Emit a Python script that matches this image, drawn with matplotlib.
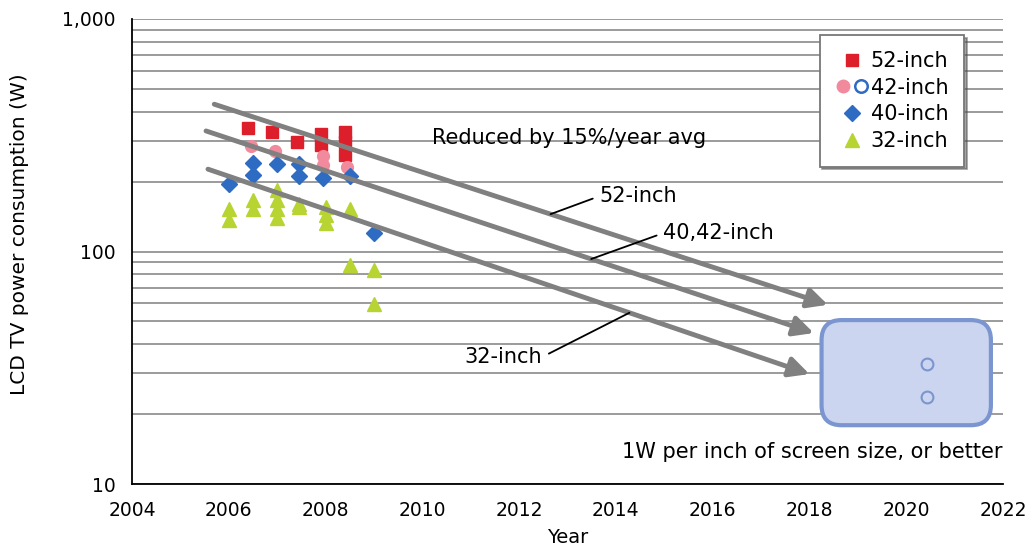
import matplotlib
matplotlib.use("Agg")
import numpy as np
import matplotlib.pyplot as plt
import matplotlib.transforms as mtransforms
from matplotlib.patches import FancyBboxPatch
from matplotlib.lines import Line2D
from matplotlib.legend_handler import HandlerTuple
from matplotlib.ticker import FixedLocator, FuncFormatter, NullFormatter

plt.rcParams["font.family"] = ["DejaVu Sans"]

# measured points
yr52 = [2006.4, 2006.9, 2007.4, 2007.9, 2007.9, 2008.4, 2008.4, 2008.4]
w52 = [339, 327, 295, 320, 287, 326, 296, 260]

yr42 = [2006.45, 2006.95, 2007.95, 2007.95, 2008.45]
w42 = [283, 270, 258, 236, 232]

yr40 = [2006.0, 2006.5, 2006.5, 2007.0, 2007.45, 2007.45, 2007.95, 2008.5, 2009.0]
w40 = [195, 241, 213, 239, 239, 211, 207, 211, 120]

yr32 = [2006.0, 2006.0, 2006.5, 2006.5, 2007.0, 2007.0, 2007.0, 2007.0,
        2007.45, 2007.45, 2008.0, 2008.0, 2008.0, 2008.5, 2008.5, 2009.0, 2009.0]
w32 = [152, 137, 166, 153, 184, 166, 153, 140,
       160, 155, 156, 144, 133, 153, 87.5, 83, 59.5]

# trend arrows (-15%/year)
trend_names = ["52-inch", "40,42-inch", "32-inch"]
trend_y0 = [2005.7, 2005.53, 2005.57]
trend_w0 = [430, 330, 226]
trend_y1 = [2018.38, 2018.09, 2018.0]
trend_w1 = [59, 44.6, 29.7]

# target region
target_years = [2018.25, 2021.75]
target_watts = [17.9, 50.7]
goal_years = [2020.42, 2020.42]
goal_watts = [32.8, 23.7]

xticks = list(range(2004, 2023, 2))

fig = plt.figure(figsize=(10.33, 5.5), dpi=100)
ax = fig.add_axes([132 / 1033, 66 / 550, 871 / 1033, 465 / 550])
ax.set_yscale("log")
ax.set_xlim(2004, 2022)
ax.set_ylim(10, 1000)

grid_vals = [v * d for d in (10, 100) for v in range(1, 10)] + [1000]
ax.yaxis.set_major_locator(FixedLocator([10, 100, 1000]))
ax.yaxis.set_minor_locator(FixedLocator([v for v in grid_vals if v not in (10, 100, 1000)]))
ax.yaxis.set_major_formatter(FuncFormatter(lambda v, p: f"{int(v):,}"))
ax.yaxis.set_minor_formatter(NullFormatter())
ax.set_xticks(xticks)
ax.grid(axis="y", which="both", color="#939393", lw=1.3)
ax.set_axisbelow(True)
for s in ["top", "right"]:
    ax.spines[s].set_visible(False)
for s in ["left", "bottom"]:
    ax.spines[s].set_linewidth(1.3)
ax.tick_params(axis="both", which="both", length=0, labelsize=13.5)
ax.tick_params(axis="x", pad=12)
ax.tick_params(axis="y", pad=12)
ax.set_xlabel("Year", fontsize=14, labelpad=6)
ax.set_ylabel("LCD TV power consumption (W)", fontsize=14.5)
ax.yaxis.set_label_coords(-0.118, 0.538)

red = "#dd1f2b"
pink = "#f08a9c"
blue = "#2e6cc4"
green = "#b7d433"
pale = "#7b95d0"

ax.plot(yr52, w52, "s", color=red, ms=8, ls="none", zorder=3)
ax.plot(yr42, w42, "o", color=pink, ms=8.5, ls="none", zorder=3)
ax.plot(yr40, w40, "D", color=blue, ms=8.5, ls="none", zorder=3)
ax.plot(yr32, w32, "^", color=green, ms=10, ls="none", zorder=3)

for x0, v0, x1, v1 in zip(trend_y0, trend_w0, trend_y1, trend_w1):
    ax.annotate("", xy=(x1, v1), xytext=(x0, v0),
                arrowprops=dict(arrowstyle="-|>", color="#808080", lw=3.5,
                                mutation_scale=30, shrinkA=0, shrinkB=0),
                zorder=4)


def on_trend(i, yr):
    la = np.log10(trend_w0[i])
    lb = np.log10(trend_w1[i])
    f = (yr - trend_y0[i]) / (trend_y1[i] - trend_y0[i])
    return 10 ** (la + f * (lb - la))


leader_years = [2012.65, 2013.49, 2014.28]
label_pos = [(2013.66, 173), (2014.98, 120), (2012.48, 35.2)]
label_ha = ["left", "left", "right"]
for i, name in enumerate(trend_names):
    ax.annotate(name, xy=(leader_years[i], on_trend(i, leader_years[i])),
                xytext=label_pos[i], ha=label_ha[i], va="center", fontsize=15,
                arrowprops=dict(arrowstyle="-", color="black", lw=1.3,
                                shrinkA=3, shrinkB=0,
                                relpos=(0 if label_ha[i] == "left" else 1, 0.5)),
                zorder=5)

ax.text(2010.2, 308, "Reduced by 15%/year avg", fontsize=15, ha="left", va="center")
ax.text(2022, 13.7, "1W per inch of screen size, or better", fontsize=15,
        ha="right", va="center")

# rounded target box (drawn in pixels so corners stay round on log axis)
p0 = ax.transData.transform((target_years[0], target_watts[0]))
p1 = ax.transData.transform((target_years[1], target_watts[1]))
box = FancyBboxPatch((p0[0], p0[1]), p1[0] - p0[0], p1[1] - p0[1],
                     boxstyle="round,pad=0,rounding_size=20",
                     transform=mtransforms.IdentityTransform(),
                     facecolor="#ccd5ef", edgecolor=pale, lw=3, zorder=2)
ax.add_artist(box)
ax.plot(goal_years, goal_watts, "o", mfc="none", mec=pale, mew=1.5, ms=8.5,
        ls="none", zorder=3)

h52 = Line2D([], [], marker="s", color=red, ms=8, ls="none")
h42a = Line2D([], [], marker="o", color=pink, ms=9, ls="none")
h42b = Line2D([], [], marker="o", mfc="none", mec=blue, mew=1.8, ms=9, ls="none")
h40 = Line2D([], [], marker="D", color=blue, ms=8.5, ls="none")
h32 = Line2D([], [], marker="^", color=green, ms=10, ls="none")
leg = ax.legend([h52, (h42a, h42b), h40, h32],
                ["52-inch", "42-inch", "40-inch", "32-inch"],
                handler_map={tuple: HandlerTuple(ndivide=None, pad=0.1)},
                loc="upper right", bbox_to_anchor=(0.967, 0.987),
                fontsize=15, frameon=True, fancybox=False, shadow=True,
                edgecolor="#777777", framealpha=1, labelspacing=0.32,
                handlelength=1.6, handletextpad=0.1, borderpad=0.75)
leg.get_frame().set_linewidth(1.3)
leg.set_zorder(6)

fig.savefig("out.png", dpi=100)
